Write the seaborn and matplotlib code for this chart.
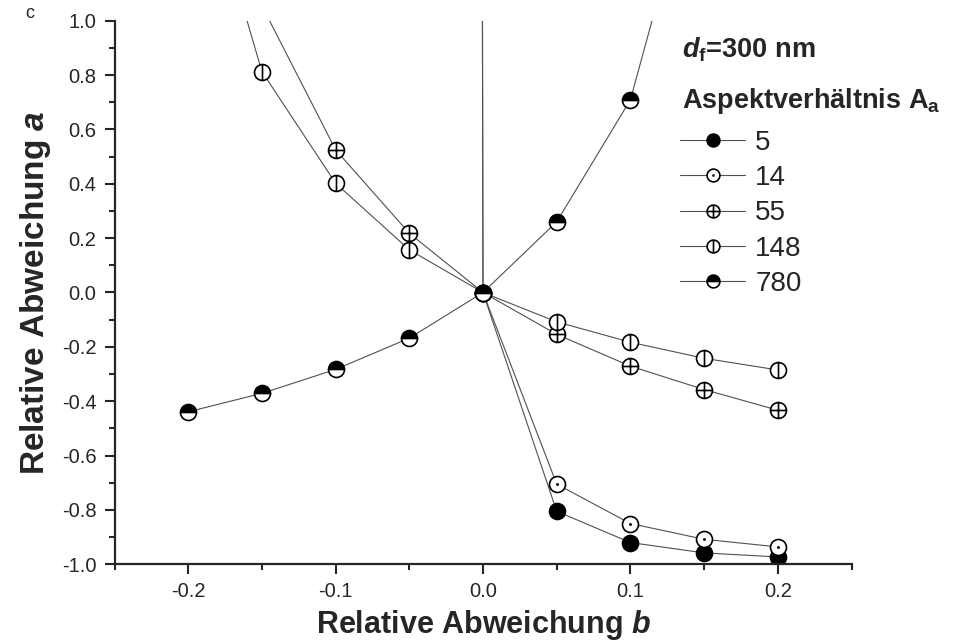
import matplotlib
matplotlib.use("Agg")
import matplotlib.pyplot as plt
import numpy as np
import seaborn as sns
from matplotlib.path import Path
from matplotlib.ticker import MultipleLocator, FormatStrFormatter

# relative deviation a over relative deviation b, d_f = 300 nm, one series per aspect ratio A_a
b_5 = [-0.05, 0.0, 0.05, 0.1, 0.15, 0.2]
a_5 = [150.0, 0.0, -0.805, -0.92, -0.958, -0.973]
b_14 = [-0.05, 0.0, 0.05, 0.1, 0.15, 0.2]
a_14 = [120.0, 0.0, -0.705, -0.85, -0.908, -0.936]
b_55 = [-0.15, -0.1, -0.05, 0.0, 0.05, 0.1, 0.15, 0.2]
a_55 = [1.055, 0.525, 0.218, 0.0, -0.154, -0.271, -0.357, -0.433]
b_148 = [-0.2, -0.15, -0.1, -0.05, 0.0, 0.05, 0.1, 0.15, 0.2]
a_148 = [1.74, 0.813, 0.402, 0.157, 0.0, -0.108, -0.183, -0.242, -0.285]
b_780 = [-0.2, -0.15, -0.1, -0.05, 0.0, 0.05, 0.1, 0.15]
a_780 = [-0.439, -0.371, -0.283, -0.168, 0.0, 0.26, 0.709, 1.7]
series_labels = ["5", "14", "55", "148", "780"]

sns.set_style("ticks")
plt.rcParams["font.family"] = ["Liberation Sans", "DejaVu Sans"]
plt.rcParams["mathtext.fontset"] = "custom"
plt.rcParams["mathtext.rm"] = "Liberation Sans"
plt.rcParams["mathtext.it"] = "Liberation Sans:italic"
plt.rcParams["mathtext.bf"] = "Liberation Sans:bold"
plt.rcParams["mathtext.bfit"] = "Liberation Sans:bold:italic"


def ring(inner):
    """Circle outline with something drawn inside it."""
    return Path.make_compound_path(Path.unit_circle(), inner)


dot_marker = ring(Path.circle((0, 0), 0.08))
plus_marker = ring(Path([(-1, 0), (1, 0), (0, -1), (0, 1)],
                        [Path.MOVETO, Path.LINETO, Path.MOVETO, Path.LINETO]))
bar_marker = ring(Path([(0, -1), (0, 1)], [Path.MOVETO, Path.LINETO]))

styles = [
    dict(marker="o", markerfacecolor="black"),
    dict(marker=dot_marker, markerfacecolor="white"),
    dict(marker=plus_marker, markerfacecolor="white"),
    dict(marker=bar_marker, markerfacecolor="white"),
    dict(marker="o", fillstyle="top", markerfacecolor="black", markerfacecoloralt="white"),
]
data = [(b_5, a_5), (b_14, a_14), (b_55, a_55), (b_148, a_148), (b_780, a_780)]

fig = plt.figure(figsize=(9.69, 6.42), dpi=100)
ax = fig.add_axes([114.5 / 969, 77.7 / 642, 737 / 969, 543.6 / 642])

handles = []
for (bx, ay), lab, st in zip(data, series_labels, styles):
    sns.lineplot(x=bx, y=ay, ax=ax, errorbar=None, sort=True, color="#505050",
                 linewidth=0.8, markersize=11.5, markeredgecolor="black",
                 markeredgewidth=1.2, label=lab, **st)
    handles.append(ax.lines[-1])

ax.set_xlim(-0.25, 0.25)
ax.set_ylim(-1.0, 1.0)
ax.xaxis.set_major_locator(MultipleLocator(0.1))
ax.xaxis.set_minor_locator(MultipleLocator(0.05))
ax.yaxis.set_major_locator(MultipleLocator(0.2))
ax.yaxis.set_minor_locator(MultipleLocator(0.1))
ax.xaxis.set_major_formatter(FormatStrFormatter("%.1f"))
ax.yaxis.set_major_formatter(FormatStrFormatter("%.1f"))
ax.tick_params(which="major", direction="out", length=7, width=1.5, labelsize=14.5, pad=6)
ax.tick_params(which="minor", direction="out", length=4, width=1.5)
for side in ["left", "bottom"]:
    ax.spines[side].set_linewidth(1.6)
sns.despine(ax=ax)

ax.set_xlabel(r"Relative Abweichung $\mathbfit{b}$", fontsize=22, fontweight="bold", labelpad=5)
ax.set_ylabel(r"Relative Abweichung $\mathbfit{a}$", fontsize=24, fontweight="bold", labelpad=6)

fig.text(682 / 969, 1 - 58 / 642, r"$\mathbfit{d}_\mathbf{f}$=300 nm",
         fontsize=19.5, fontweight="bold", va="baseline")
fig.text(682 / 969, 1 - 108 / 642, r"Aspektverhältnis A$_\mathbf{a}$",
         fontsize=19.5, fontweight="bold", va="baseline")
fig.text(30 / 969, 1 - 14 / 642, "c", fontsize=13, ha="center", va="center")

ax.legend(handles, series_labels, loc="upper left", bbox_to_anchor=(680 / 969, 1 - 130 / 642),
          bbox_transform=fig.transFigure, frameon=False, fontsize=20, borderpad=0,
          handlelength=2.35, handletextpad=0.36, labelspacing=0.33, markerscale=0.8,
          borderaxespad=0)

fig.savefig("out.png", dpi=100)
